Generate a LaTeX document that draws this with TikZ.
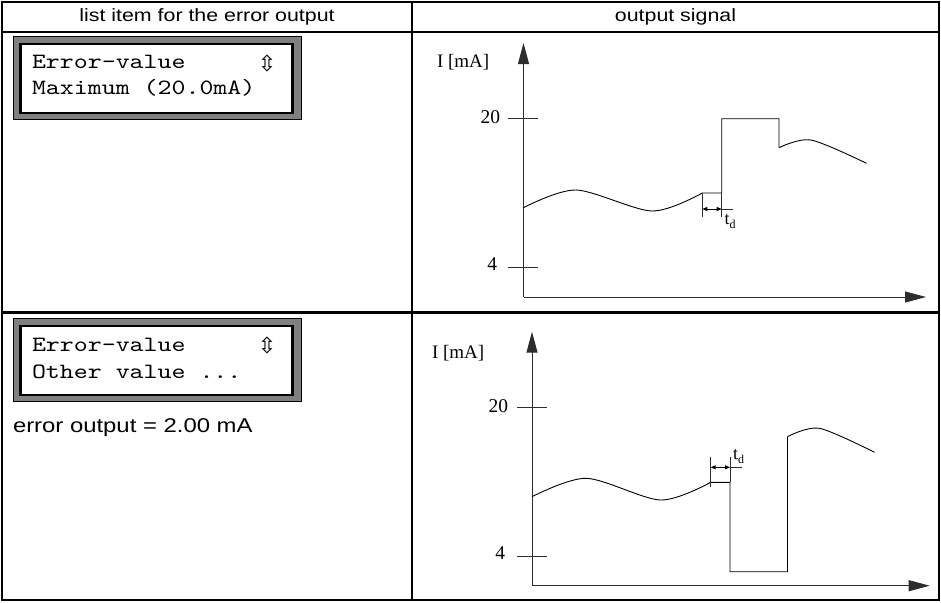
\documentclass[tikz,border=0pt]{standalone}
\usepackage{fontspec}
\usepackage{tikz}
\usetikzlibrary{arrows.meta, positioning}
\newfontfamily\headfont[FakeStretch=1.2]{Liberation Sans}
\newfontfamily\lcdfont[FakeStretch=1.22]{lmmono10-regular.otf}
\newfontfamily\plotfont{Liberation Serif}
\newfontfamily\symbfont{DejaVu Sans}
\definecolor{framegray}{RGB}{128,128,128}
\definecolor{plotgray}{RGB}{45,45,45}
\newcommand{\tdlabel}{{\plotfont\fontsize{18}{18}\selectfont t\raisebox{-4pt}{\fontsize{12}{12}\selectfont d}}}

\begin{document}
\begin{tikzpicture}[
    x=1pt, y=-1pt,
    every node/.style={inner sep=0pt, outer sep=0pt},
    rule/.style={line width=2.4pt, line cap=rect},
    headtext/.style={font=\headfont\fontsize{17.8}{20}\selectfont},
    notetext/.style={font=\headfont\fontsize{19.9}{22}\selectfont, anchor=base west},
    lcdframe/.style={draw=black, line width=0.8pt, fill=framegray,
        minimum width=288pt, minimum height=83pt},
    lcdscreen/.style={draw=black, line width=2.2pt, fill=white,
        minimum width=272pt, minimum height=69pt},
    lcdtext/.style={font=\lcdfont\fontsize{21.8}{26}\selectfont, anchor=base west},
    updown/.style={font=\symbfont\fontsize{22}{22}\selectfont},
    axislabel/.style={font=\plotfont\fontsize{19}{20}\selectfont, anchor=base west},
    ticklabel/.style={font=\plotfont\fontsize{19.5}{20}\selectfont, anchor=base east},
    axis/.style={draw=plotgray, line width=1pt, -{Triangle[length=21pt,width=11pt]}},
    tick/.style={draw=plotgray, line width=0.9pt},
    signal/.style={draw=black, line width=0.9pt},
    delay/.style={draw=black, line width=0.8pt,
        {Triangle[length=5pt,width=4pt]}-{Triangle[length=5pt,width=4pt]}}
]
\useasboundingbox (0,0) rectangle (941,602);

\draw[rule] (2,2) rectangle (939,600);
\draw[rule] (2,32) -- (939,32);
\draw[rule] (2,312.5) -- (939,312.5);
\draw[rule] (412,2) -- (412,600);

\node[headtext] (headleft) at (207,17) {list item for the error output};
\node[headtext] (headright) at (675.5,17) {output signal};

\node[lcdframe] (frame1) at (157,77.5) {};
\node[lcdscreen] (screen1) at (156.5,78.5) {};
\node[lcdtext] (errval1) at (32,68) {Error-value};
\node[lcdtext] (maxval) at (32,94) {Maximum (20.0mA)};
\node[updown] (updown1) at (267,63) {⇳};

\node[lcdframe] (frame2) at (157,359.5) {};
\node[lcdscreen] (screen2) at (156.5,360.5) {};
\node[lcdtext] (errval2) at (32,351) {Error-value};
\node[lcdtext] (otherval) at (32,378) {Other value ...};
\node[updown] (updown2) at (267,345) {⇳};
\node[notetext] (erroutput) at (13,432) {error output = 2.00 mA};

\coordinate (orig1) at (523.5,297);
\coordinate (ytop1) at (523.5,43);
\coordinate (xend1) at (926,297);
\draw[axis] (orig1) -- (ytop1);
\draw[axis] (orig1) -- (xend1);
\node[axislabel] (ilabel1) at (437,67) {I [mA]};
\draw[tick] (508,118) -- (538,118);
\node[ticklabel] (twenty1) at (500,123) {20};
\draw[tick] (508,267) -- (538,267);
\node[ticklabel] (four1) at (497,270) {4};
\draw[signal] plot[smooth] coordinates {(523.5,207.7) (576,190) (652,211) (702.3,193)}
    -- (721.7,193) -- (721.7,118.7) -- (779,118.7) -- (779,147.7);
\draw[signal] plot[smooth] coordinates {(779,147.7) (811,140) (866.5,163.3)};
\draw[tick] (702.3,193) -- (702.3,217);
\draw[tick] (721.7,193) -- (721.7,217);
\draw[delay] (702.3,209) -- (721.7,209);
\draw[tick] (721.7,209) -- (733,209);
\node[anchor=base west] (td1) at (724.5,224) {\tdlabel};

\coordinate (orig2) at (532,585.7);
\coordinate (ytop2) at (532,331.7);
\coordinate (xend2) at (929.7,585.7);
\draw[axis] (orig2) -- (ytop2);
\draw[axis] (orig2) -- (xend2);
\node[axislabel] (ilabel2) at (432,358) {I [mA]};
\draw[tick] (516.5,407.3) -- (546.5,407.3);
\node[ticklabel] (twenty2) at (508,412) {20};
\draw[tick] (516.5,556) -- (546.5,556);
\node[ticklabel] (four2) at (505,559) {4};
\draw[signal] plot[smooth] coordinates {(532,496.7) (586.3,478.3) (660.5,500) (710.7,482.3)}
    -- (730,482.3) -- (730,571.7) -- (787.5,571.7) -- (787.5,436.7);
\draw[signal] plot[smooth] coordinates {(787.5,436.7) (819.3,428.3) (874.5,452.3)};
\draw[tick] (710.7,456.7) -- (710.7,486.7);
\draw[tick] (730,456.7) -- (730,482.3);
\draw[delay] (710.7,467.3) -- (730,467.3);
\draw[tick] (730,467.3) -- (741.7,467.3);
\node[anchor=base west] (td2) at (733,459) {\tdlabel};

\end{tikzpicture}
\end{document}
